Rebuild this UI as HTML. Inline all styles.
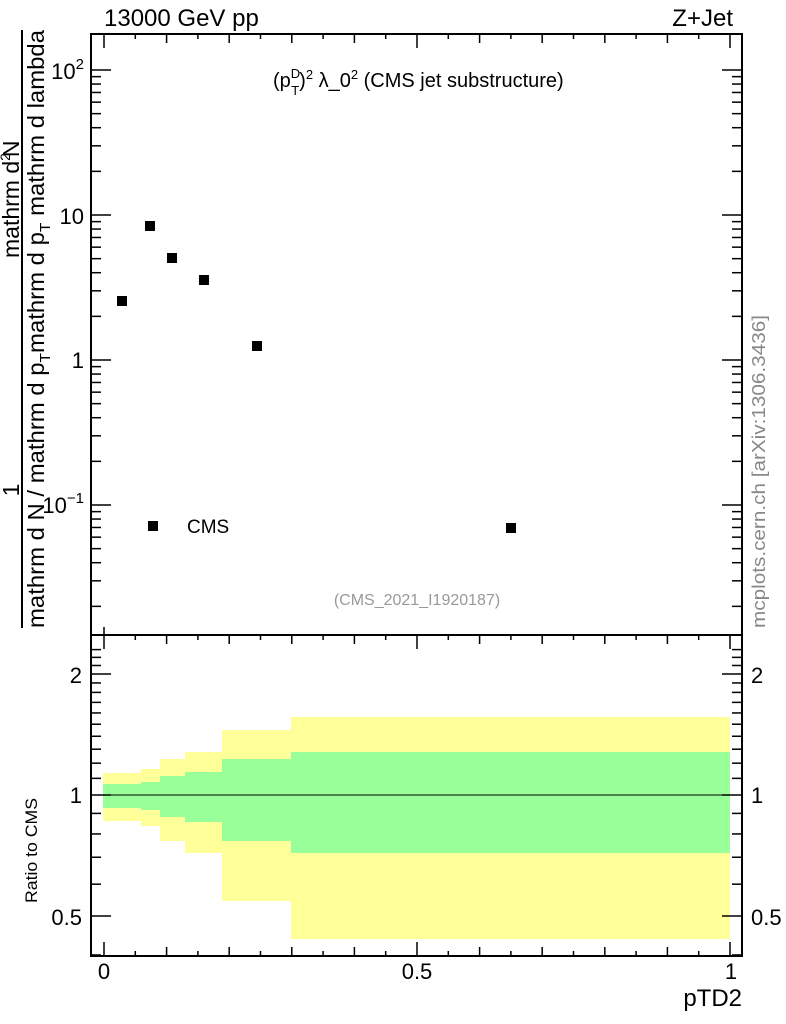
<!DOCTYPE html>
<html><head><meta charset="utf-8"><style>
body{margin:0;background:#fff;}
svg{display:block;font-family:"Liberation Sans",sans-serif;}
</style></head><body>
<svg id="s" width="786" height="1024" viewBox="0 0 786 1024" xmlns="http://www.w3.org/2000/svg">
<rect width="786" height="1024" fill="#fff"/>
<g id="bands"></g>
<line x1="91" y1="795" x2="742" y2="795" stroke="#000" stroke-width="1"/>
<g id="ticks" stroke="#000" stroke-width="1.5"></g>
<rect x="91" y="34" width="651" height="601" fill="none" stroke="#000" stroke-width="2"/>
<rect x="91" y="635" width="651" height="321" fill="none" stroke="#000" stroke-width="2"/>
<g fill="#000">
<rect x="117" y="296" width="10" height="10"/>
<rect x="145" y="221" width="10" height="10"/>
<rect x="167" y="253" width="10" height="10"/>
<rect x="199" y="275" width="10" height="10"/>
<rect x="252" y="341" width="10" height="10"/>
<rect x="506" y="523" width="10" height="10"/>
<rect x="148" y="521" width="10" height="10"/>
</g>
<text x="187" y="533" font-size="19">CMS</text>
<text x="104" y="26" font-size="24">13000 GeV pp</text>
<text x="733" y="26" font-size="24" text-anchor="end">Z+Jet</text>
<text x="273" y="87" font-size="20">(p<tspan font-size="13" dy="-9">D</tspan><tspan font-size="13" dx="-9" dy="17">T</tspan><tspan dy="-8">)</tspan><tspan font-size="13" dy="-8">2</tspan><tspan dy="8"> λ_0</tspan><tspan font-size="13" dy="-8">2</tspan><tspan dy="8"> (CMS jet substructure)</tspan></text>
<text x="417" y="605" font-size="16" fill="#999" text-anchor="middle">(CMS_2021_I1920187)</text>
<text transform="translate(765,628) rotate(-90)" font-size="18.5" fill="#888" textLength="313" lengthAdjust="spacingAndGlyphs">mcplots.cern.ch [arXiv:1306.3436]</text>
<g font-size="22" text-anchor="end">
<text x="84" y="79">10<tspan font-size="15" dy="-10">2</tspan></text>
<text x="84" y="224">10</text>
<text x="84" y="368">1</text>
<text x="84" y="513">10<tspan font-size="15" dy="-10">−1</tspan></text>
</g>
<g font-size="22">
<text x="82" y="683" text-anchor="end">2</text>
<text x="82" y="803" text-anchor="end">1</text>
<text x="82" y="925" text-anchor="end">0.5</text>
<text x="751" y="683">2</text>
<text x="751" y="803">1</text>
<text x="751" y="925">0.5</text>
</g>
<g font-size="22" text-anchor="middle">
<text x="104" y="979">0</text>
<text x="417" y="979">0.5</text>
<text x="731" y="979">1</text>
</g>
<text x="742" y="1006" font-size="24" text-anchor="end">pTD2</text>
<text transform="translate(37,903) rotate(-90)" font-size="17" textLength="105" lengthAdjust="spacingAndGlyphs">Ratio to CMS</text>
<g font-size="23">
<text transform="translate(19,490) rotate(-90)" text-anchor="middle">1</text>
<line x1="22" y1="628" x2="22" y2="30" stroke="#000" stroke-width="2"/>
<text transform="translate(44,628) rotate(-90)" textLength="598" lengthAdjust="spacingAndGlyphs">mathrm d N / mathrm d p<tspan font-size="15" dy="6">T</tspan><tspan dy="-6">mathrm d p</tspan><tspan font-size="15" dy="6">T</tspan><tspan dy="-6"> mathrm d lambda</tspan></text>
<text transform="translate(19,258) rotate(-90)">mathrm d<tspan font-size="14" dy="-9">2</tspan><tspan dy="9" dx="-4">N</tspan></text>
</g>
</svg>
<script>
var NS="http://www.w3.org/2000/svg";
function el(p,t,a){var e=document.createElementNS(NS,t);for(var k in a)e.setAttribute(k,a[k]);p.appendChild(e);return e;}
var b=document.getElementById("bands");
var xs=[103,141,160,185,222,291,730];
var yt=[773,769,759,752,730,717],gt=[784,782,776,772,759,752],gb=[808,810,817,822,841,853],yb=[821,826,841,853,901,939];
for(var i=0;i<6;i++){
el(b,"rect",{x:xs[i],y:yt[i],width:xs[i+1]-xs[i],height:yb[i]-yt[i],fill:"#ffff99"});
el(b,"rect",{x:xs[i],y:gt[i],width:xs[i+1]-xs[i],height:gb[i]-gt[i],fill:"#99ff99"});
}
var t=document.getElementById("ticks");
function ln(x1,y1,x2,y2){el(t,"line",{x1:x1,y1:y1,x2:x2,y2:y2});}
for(var k=0;k<=20;k++){var x=104+k*31.3;var L=(k%10==0)?14:(k%2==0?9:5);
ln(x,34,x,34+L);ln(x,635,x,635+L);ln(x,956,x,956-L);}
ln(104,627,104,635);
function ym(v){return 360-145*Math.log10(v);}
for(var d=-2;d<=2;d++){for(var m=1;m<10;m++){var v=m*Math.pow(10,d);var y=ym(v);if(y<35||y>634)continue;var L=(m==1)?20:10;ln(91,y,91+L,y);ln(742,y,742-L,y);}}
for(var v=0.4;v<=2.35;v+=0.1){var y=795-(121/Math.log10(2))*Math.log10(v);if(y<636||y>955)continue;var r=Math.round(v*10);var L=(r==5||r==10||r==20)?20:10;ln(91,y,91+L,y);ln(742,y,742-L,y);}
</script>
</body></html>
